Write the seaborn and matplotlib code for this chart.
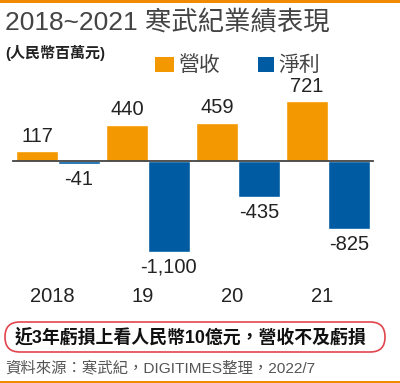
import matplotlib
matplotlib.use("Agg")
import matplotlib.pyplot as plt
import matplotlib.transforms as mtransforms
from matplotlib.patches import FancyBboxPatch, Rectangle
import pandas as pd
import seaborn as sns

years = ["2018", "19", "20", "21"]
metrics = ["營收", "淨利"]
revenue = [117, 440, 459, 721]
net_income = [-41, -1100, -435, -825]

ORANGE = "#F39800"
BLUE = "#005BA3"
LINE_ORANGE = "#F08A00"
TEXT_GRAY = "#444444"

df = pd.DataFrame({
    "year": years * 2,
    "metric": [metrics[0]] * len(years) + [metrics[1]] * len(years),
    "value": revenue + net_income,
})

sns.set_theme(style="white")
plt.rcParams["font.family"] = ["Liberation Sans", "Noto Sans CJK TC", "DejaVu Sans"]

fig = plt.figure(figsize=(4.0, 3.83), dpi=100)
fig.patch.set_facecolor("white")

# axes placed so the zero line sits at y=161px and spans x=13..373px
ax = fig.add_axes([13 / 400, 1 - 290 / 383, 360 / 400, 210 / 383])
px = 1100 / 91.0
ax.set_ylim(-(290 - 161) * px, (161 - 80) * px)

sns.barplot(data=df, x="year", y="value", hue="metric", order=years, hue_order=metrics,
            palette=[ORANGE, BLUE], width=0.93, gap=0, saturation=1, legend=False, ax=ax)
ax.set_xlim(-0.5, 3.5)

for c in ax.containers:
    labels = [f"{int(b.get_height()):,}" for b in c]
    ax.bar_label(c, labels=labels, padding=4, fontsize=14.5, color="#222222")

for s in ["top", "right", "left"]:
    ax.spines[s].set_visible(False)
ax.spines["bottom"].set_position(("data", 0))
ax.spines["bottom"].set_color(TEXT_GRAY)
ax.spines["bottom"].set_linewidth(1.3)
ax.spines["bottom"].set_zorder(5)
ax.set_yticks([])
ax.set_xticks([-0.5, 0.5, 1.5, 2.5, 3.5], minor=True)
ax.tick_params(axis="x", which="minor", length=5, width=1.3, direction="out", color=TEXT_GRAY)
ax.tick_params(axis="x", which="major", length=0, labelbottom=False)
ax.set_xlabel("")
ax.set_ylabel("")
ax.patch.set_alpha(0)

trans = mtransforms.blended_transform_factory(ax.transData, fig.transFigure)
for i, yr in enumerate(years):
    ax.text(i - 0.06, 1 - 297 / 383, yr, transform=trans, ha="center", va="center",
            fontsize=14.5, color="#222222")

# orange rules at top and bottom
fig.add_artist(Rectangle((0, 1 - 2.5 / 383), 1, 2.5 / 383, transform=fig.transFigure,
                         color=LINE_ORANGE, lw=0))
fig.add_artist(Rectangle((0, 0), 1, 2.5 / 383, transform=fig.transFigure,
                         color=LINE_ORANGE, lw=0))

fig.text(5 / 400, 1 - 22 / 383, "2018~2021 寒武紀業績表現", fontsize=19, color=TEXT_GRAY,
         ha="left", va="center")
fig.text(5 / 400, 1 - 53 / 383, "(人民幣百萬元)", fontsize=10.8, fontweight="bold",
         color="#222222", ha="left", va="center")

# legend
fig.add_artist(Rectangle((155 / 400, 1 - 72 / 383), 19 / 400, 15 / 383,
                         transform=fig.transFigure, color=ORANGE, lw=0))
fig.text(178 / 400, 1 - 65 / 383, metrics[0], fontsize=15, color=TEXT_GRAY, ha="left", va="center")
fig.add_artist(Rectangle((258 / 400, 1 - 72 / 383), 16 / 400, 15 / 383,
                         transform=fig.transFigure, color=BLUE, lw=0))
fig.text(278 / 400, 1 - 65 / 383, metrics[1], fontsize=15, color=TEXT_GRAY, ha="left", va="center")

# highlighted note box
fig.add_artist(FancyBboxPatch((5 / 400, 1 - 352 / 383), 380 / 400, 30 / 383,
                              boxstyle="round,pad=0,rounding_size=0.037",
                              transform=fig.transFigure, facecolor="white",
                              edgecolor="#E2454D", linewidth=1.2, mutation_aspect=400 / 383))
fig.text(15 / 400, 1 - 337 / 383, "近3年虧損上看人民幣10億元，營收不及虧損", fontsize=12.9,
         fontweight="bold", color="#111111", ha="left", va="center")

fig.text(5 / 400, 1 - 368 / 383, "資料來源：寒武紀，DIGITIMES整理，2022/7", fontsize=11.1,
         color="#555555", ha="left", va="center")

fig.savefig("out.png", dpi=100, facecolor="white")
